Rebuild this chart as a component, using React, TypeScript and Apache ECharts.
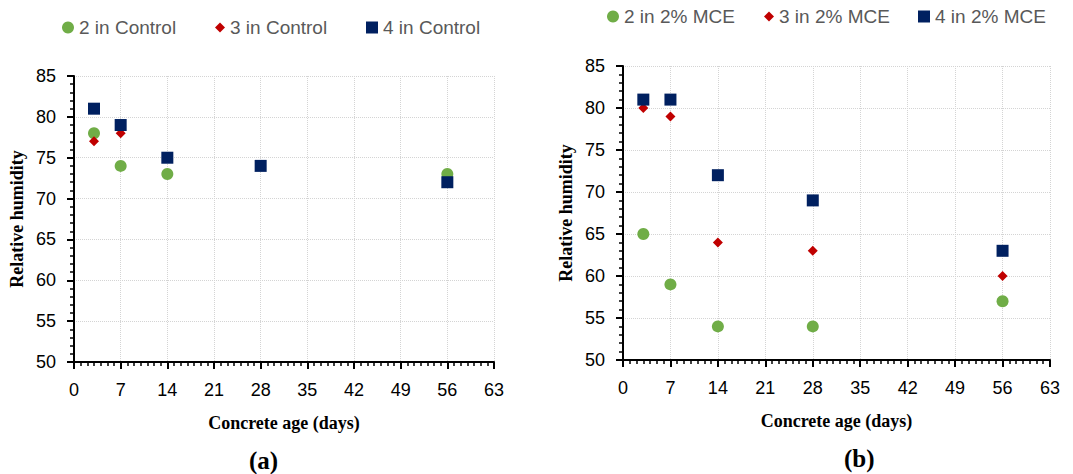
import React, { useEffect, useRef } from "react";
import * as echarts from "echarts";

// Concrete age (days) and relative humidity readings per sensor depth
const controlDays2 = [3, 7, 14, 56];
const control2 = [78, 74, 73, 73];
const controlDays3 = [3, 7];
const control3 = [77, 78];
const controlDays4 = [3, 7, 14, 28, 56];
const control4 = [81, 79, 75, 74, 72];

const mceDays = [3, 7, 14, 28, 56];
const mce2 = [65, 59, 54, 54, 57];
const mce3 = [80, 79, 64, 63, 60];
const mce4 = [81, 81, 72, 69, 63];

const seriesNamesA = ["2 in Control", "3 in Control", "4 in Control"];
const seriesNamesB = ["2 in 2% MCE", "3 in 2% MCE", "4 in 2% MCE"];

const GREEN = "#70AD47";
const RED = "#C00000";
const NAVY = "#002060";

const pairs = (xs: number[], ys: number[]) => xs.map((x, i) => [x, ys[i]]);

export default function App() {
  const ref = useRef<HTMLDivElement>(null);

  useEffect(() => {
    document.body.style.margin = "0";
    if (!ref.current) return;
    const chart = echarts.init(ref.current, undefined, { renderer: "svg" });

    const nameStyle = {
      fontFamily: "Liberation Serif",
      fontWeight: "bold" as const,
      fontSize: 18,
      color: "#000",
    };

    const xAxisBase = (gridIndex: number) => ({
      type: "value" as const,
      gridIndex,
      min: 0,
      max: 63,
      interval: 7,
      name: "Concrete age (days)",
      nameLocation: "middle" as const,
      nameGap: 52,
      nameTextStyle: nameStyle,
      axisLine: { onZero: false, lineStyle: { color: "#000", width: 2 } },
      axisTick: { show: true, length: 7, lineStyle: { color: "#000", width: 2 } },
      minorTick: { show: true, splitNumber: 7, length: 4, lineStyle: { color: "#000", width: 1.5 } },
      axisLabel: { fontFamily: "Liberation Sans", fontSize: 18, color: "#000", margin: 19 },
      splitLine: { show: true, lineStyle: { color: "#d4d4d4", type: [1, 1] as any, width: 1 } },
    });

    const yAxisBase = (gridIndex: number) => ({
      type: "value" as const,
      gridIndex,
      min: 50,
      max: 85,
      interval: 5,
      name: "Relative humidity",
      nameLocation: "middle" as const,
      nameGap: 48,
      nameTextStyle: nameStyle,
      axisLine: { show: true, onZero: false, lineStyle: { color: "#000", width: 2 } },
      axisTick: { show: true, length: 7, lineStyle: { color: "#000", width: 2 } },
      minorTick: { show: true, splitNumber: 5, length: 4, lineStyle: { color: "#000", width: 1.5 } },
      axisLabel: { fontFamily: "Liberation Sans", fontSize: 18, color: "#000", margin: 18 },
      splitLine: { show: true, lineStyle: { color: "#d4d4d4", type: [1, 1] as any, width: 1 } },
    });

    const legendItem = (name: string, icon: string, left: number, top: number, size: number) => ({
      show: true,
      left,
      top,
      orient: "horizontal" as const,
      data: [{ name, icon }],
      itemWidth: size,
      itemHeight: size,
      itemGap: 4,
      textStyle: { fontFamily: "Liberation Sans", fontSize: 19, color: "#595959" },
      selectedMode: false,
    });

    const scatter = (
      name: string,
      data: number[][],
      symbol: string,
      size: number,
      color: string,
      idx: number
    ) => ({
      type: "scatter" as const,
      name,
      xAxisIndex: idx,
      yAxisIndex: idx,
      data,
      symbol,
      symbolSize: size,
      itemStyle: { color, opacity: 1 },
      emphasis: { disabled: true },
    });

    chart.setOption({
      animation: false,
      backgroundColor: "#fff",
      grid: [
        { left: 74, top: 76, width: 420, height: 286 },
        { left: 623, top: 66, width: 427, height: 294 },
      ],
      legend: [
        legendItem(seriesNamesA[0], "circle", 57, 13, 12),
        legendItem(seriesNamesA[1], "diamond", 210, 13, 10),
        legendItem(seriesNamesA[2], "rect", 361, 13, 12),
        legendItem(seriesNamesB[0], "circle", 602, 2, 12),
        legendItem(seriesNamesB[1], "diamond", 759, 2, 10),
        legendItem(seriesNamesB[2], "rect", 913, 2, 12),
      ],
      xAxis: [xAxisBase(0), xAxisBase(1)],
      yAxis: [yAxisBase(0), yAxisBase(1)],
      series: [
        scatter(seriesNamesA[0], pairs(controlDays2, control2), "circle", 12, GREEN, 0),
        scatter(seriesNamesA[1], pairs(controlDays3, control3), "diamond", 10, RED, 0),
        scatter(seriesNamesA[2], pairs(controlDays4, control4), "rect", 12, NAVY, 0),
        scatter(seriesNamesB[0], pairs(mceDays, mce2), "circle", 12, GREEN, 1),
        scatter(seriesNamesB[1], pairs(mceDays, mce3), "diamond", 10, RED, 1),
        scatter(seriesNamesB[2], pairs(mceDays, mce4), "rect", 12, NAVY, 1),
      ],
      graphic: [
        {
          type: "text",
          left: 249,
          top: 448,
          style: {
            text: "(a)",
            fontFamily: "Liberation Serif",
            fontWeight: "bold",
            fontSize: 25,
            fill: "#000",
          },
        },
        {
          type: "text",
          left: 844,
          top: 446,
          style: {
            text: "(b)",
            fontFamily: "Liberation Serif",
            fontWeight: "bold",
            fontSize: 25,
            fill: "#000",
          },
        },
      ],
    });

    return () => chart.dispose();
  }, []);

  return <div ref={ref} style={{ width: 1073, height: 474 }} />;
}
